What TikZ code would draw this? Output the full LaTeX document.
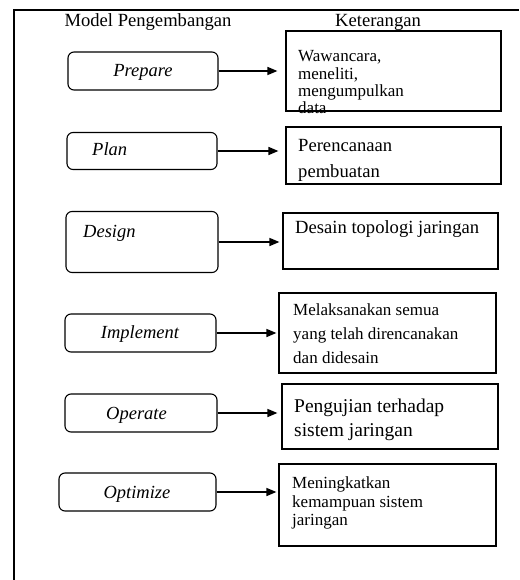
\documentclass[tikz,border=0pt]{standalone}
\usepackage{fontspec}
\setmainfont{Liberation Serif}
\usetikzlibrary{arrows.meta}
\begin{document}
\begin{tikzpicture}[x=1pt,y=-1pt,
  frame/.style={line width=2.6pt},
  lbox/.style={draw, line width=1.1pt, rounded corners=6pt, inner sep=0pt},
  rbox/.style={draw, line width=1.2pt, inner sep=0pt},
  arr/.style={line width=1.5pt, -{Triangle[length=10pt,width=8pt]}},
  head/.style={font=\fontsize{18.6}{22}\selectfont, anchor=base, inner sep=0pt},
  lab/.style={font=\fontsize{18.5}{22}\selectfont\itshape, anchor=base, inner sep=0pt},
  labw/.style={lab, anchor=base west},
  txts/.style={font=\fontsize{17}{20}\selectfont, anchor=base west, inner sep=0pt},
  txtm/.style={font=\fontsize{18.6}{22}\selectfont, anchor=base west, inner sep=0pt},
  txtl/.style={font=\fontsize{19.5}{23}\selectfont, anchor=base west, inner sep=0pt}]
\useasboundingbox (0,0) rectangle (519,580);

% frame
\coordinate (fbl) at (14,580);
\coordinate (ftl) at (14,10);
\coordinate (ftr) at (519,10);
\draw[frame] (fbl) -- (ftl) -- (ftr);

% headers
\node[head] (h1) at (148,27) {Model Pengembangan};
\node[head] (h2) at (378,27) {Keterangan};

% left boxes
\node[lbox, minimum width=150pt, minimum height=38pt] (b1) at (143,71) {};
\node[lbox, minimum width=150pt, minimum height=37pt] (b2) at (142,151) {};
\node[lbox, minimum width=152pt, minimum height=61pt] (b3) at (142,242) {};
\node[lbox, minimum width=151pt, minimum height=38pt] (b4) at (140.5,333) {};
\node[lbox, minimum width=152pt, minimum height=38pt] (b5) at (141,413) {};
\node[lbox, minimum width=157pt, minimum height=38pt] (b6) at (137.5,492) {};

% left labels
\node[lab] (l1) at (143,77) {Prepare};
\node[labw] (l2) at (92,156) {Plan};
\node[labw] (l3) at (83,237) {Design};
\node[lab] (l4) at (140,338.5) {Implement};
\node[lab] (l5) at (136.5,419) {Operate};
\node[lab] (l6) at (137,498) {Optimize};

% right boxes
\node[rbox, minimum width=215pt, minimum height=80pt] (r1) at (393.5,71) {};
\node[rbox, minimum width=215pt, minimum height=57pt] (r2) at (393.5,155.5) {};
\node[rbox, minimum width=215pt, minimum height=56pt] (r3) at (390.5,241) {};
\node[rbox, minimum width=217pt, minimum height=80pt] (r4) at (387.5,333) {};
\node[rbox, minimum width=216pt, minimum height=65pt] (r5) at (390,416.5) {};
\node[rbox, minimum width=217pt, minimum height=82pt] (r6) at (387.5,505) {};

% right texts
\node[txts] (t1a) at (298,62) {Wawancara,};
\node[txts] (t1b) at (298,80) {meneliti,};
\node[txts] (t1c) at (298,97) {mengumpulkan};
\node[txts] (t1d) at (298,114) {data};

\node[txtm] (t2a) at (298,152) {Perencanaan};
\node[txtm] (t2b) at (298,178) {pembuatan};

\node[txtm] (t3a) at (295,233) {Desain topologi jaringan};

\node[txts] (t4a) at (293,315) {Melaksanakan semua};
\node[txts] (t4b) at (293,339) {yang telah direncanakan};
\node[txts] (t4c) at (293,363) {dan didesain};

\node[txtl] (t5a) at (294,412) {Pengujian terhadap};
\node[txtl] (t5b) at (294,436) {sistem jaringan};

\node[txts] (t6a) at (292,488) {Meningkatkan};
\node[txts] (t6b) at (292,507) {kemampuan sistem};
\node[txts] (t6c) at (292,525) {jaringan};

% arrows
\draw[arr, shorten >=8pt] (b1.east) -- (b1.east -| r1.west);
\draw[arr, shorten >=7pt] (b2.east) -- (b2.east -| r2.west);
\draw[arr, shorten >=3pt] (b3.east) -- (b3.east -| r3.west);
\draw[arr, shorten >=2pt] (b4.east) -- (b4.east -| r4.west);
\draw[arr, shorten >=4pt] (b5.east) -- (b5.east -| r5.west);
\draw[arr, shorten >=2pt] (b6.east) -- (b6.east -| r6.west);
\end{tikzpicture}
\end{document}
